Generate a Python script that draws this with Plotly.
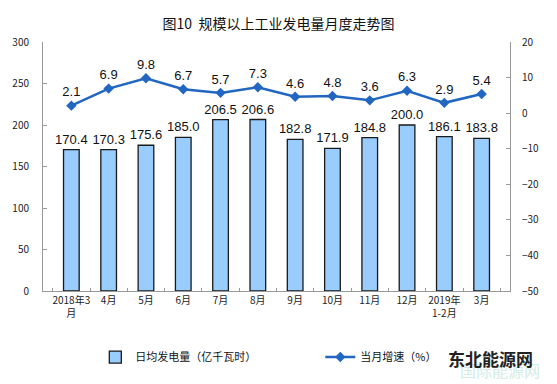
import plotly.graph_objects as go

categories = ["2018年3<br>月", "4月", "5月", "6月", "7月", "8月", "9月", "10月", "11月", "12月", "2019年<br>1-2月", "3月"]
daily_power = [170.4, 170.3, 175.6, 185.0, 206.5, 206.6, 182.8, 171.9, 184.8, 200.0, 186.1, 183.8]
growth = [2.1, 6.9, 9.8, 6.7, 5.7, 7.3, 4.6, 4.8, 3.6, 6.3, 2.9, 5.4]
left_ticks = [0, 50, 100, 150, 200, 250, 300]
right_ticks = [-50, -40, -30, -20, -10, 0, 10, 20]

fig = go.Figure()
fig.add_trace(go.Bar(
    x=categories, y=daily_power, name="日均发电量（亿千瓦时）",
    marker=dict(color="#99CCFF", line=dict(color="#1a1a1a", width=1.3)),
    width=0.42,
    text=[f"{v:.1f}" for v in daily_power], textposition="outside",
    constraintext="none",
    textfont=dict(size=13, color="#111", family="Liberation Sans, Arial"),
    cliponaxis=False,
))
fig.add_trace(go.Scatter(
    x=categories, y=growth, name="当月增速（%）", yaxis="y2",
    mode="lines+markers+text",
    line=dict(color="#2166C0", width=2.5),
    marker=dict(symbol="diamond", size=8, color="#2166C0"),
    text=[f"{v:.1f}" for v in growth], textposition="top center",
    textfont=dict(size=13, color="#111", family="Liberation Sans, Arial"),
    cliponaxis=False,
))

tickfont = dict(size=10, color="#222", family="Noto Sans CJK SC")
fig.update_layout(
    width=557, height=384,
    margin=dict(l=37, r=38, t=42, b=91),
    paper_bgcolor="white", plot_bgcolor="white",
    title=dict(text="图10  规模以上工业发电量月度走势图", x=0.5, xanchor="center", y=0.9375, yanchor="middle",
               font=dict(size=14, color="#111", family="Noto Sans CJK SC")),
    showlegend=True,
    legend=dict(orientation="h", x=0.112, y=-0.207, xanchor="left", yanchor="top",
                font=dict(size=11, color="#111", family="Noto Sans CJK SC"),
                entrywidth=180, entrywidthmode="pixels", tracegroupgap=0),
    xaxis=dict(showline=True, linecolor="#999", linewidth=1, ticks="inside", tickson="boundaries",
               ticklen=3, tickcolor="#999", tickfont=tickfont, showgrid=False, tickangle=0),
    yaxis=dict(range=[0, 300], tickvals=left_ticks, showline=True, linecolor="#999", linewidth=1,
               ticks="inside", ticklen=4, tickcolor="#999", showgrid=False, zeroline=False,
               tickfont=tickfont, ticklabelstandoff=11),
    yaxis2=dict(range=[-50, 20], tickvals=right_ticks, overlaying="y", side="right", showline=True,
                linecolor="#999", linewidth=1, ticks="inside", ticklen=4, tickcolor="#999",
                showgrid=False, zeroline=False, tickfont=tickfont, ticklabelstandoff=9),
    annotations=[
        dict(text="国际能源网", x=552, y=373, xref="paper", yref="paper",
             xanchor="right", yanchor="middle", showarrow=False,
             font=dict(size=16, color="#d3ece8", family="Noto Sans CJK SC")),
        dict(text="<b>东北能源网</b>", x=545, y=361, xref="paper", yref="paper",
             xanchor="right", yanchor="middle", showarrow=False,
             font=dict(size=17, color="#222", family="Noto Sans CJK SC")),
    ],
)

# convert pixel positions of the watermark annotations to paper coordinates
pw, ph = 557 - 37 - 38, 384 - 42 - 91
for a in fig.layout.annotations:
    a.x = (a.x - 37) / pw
    a.y = (293 - a.y) / ph

fig.write_html("out.html", config={"displayModeBar": False},
               post_script="document.body.style.margin='0';")
